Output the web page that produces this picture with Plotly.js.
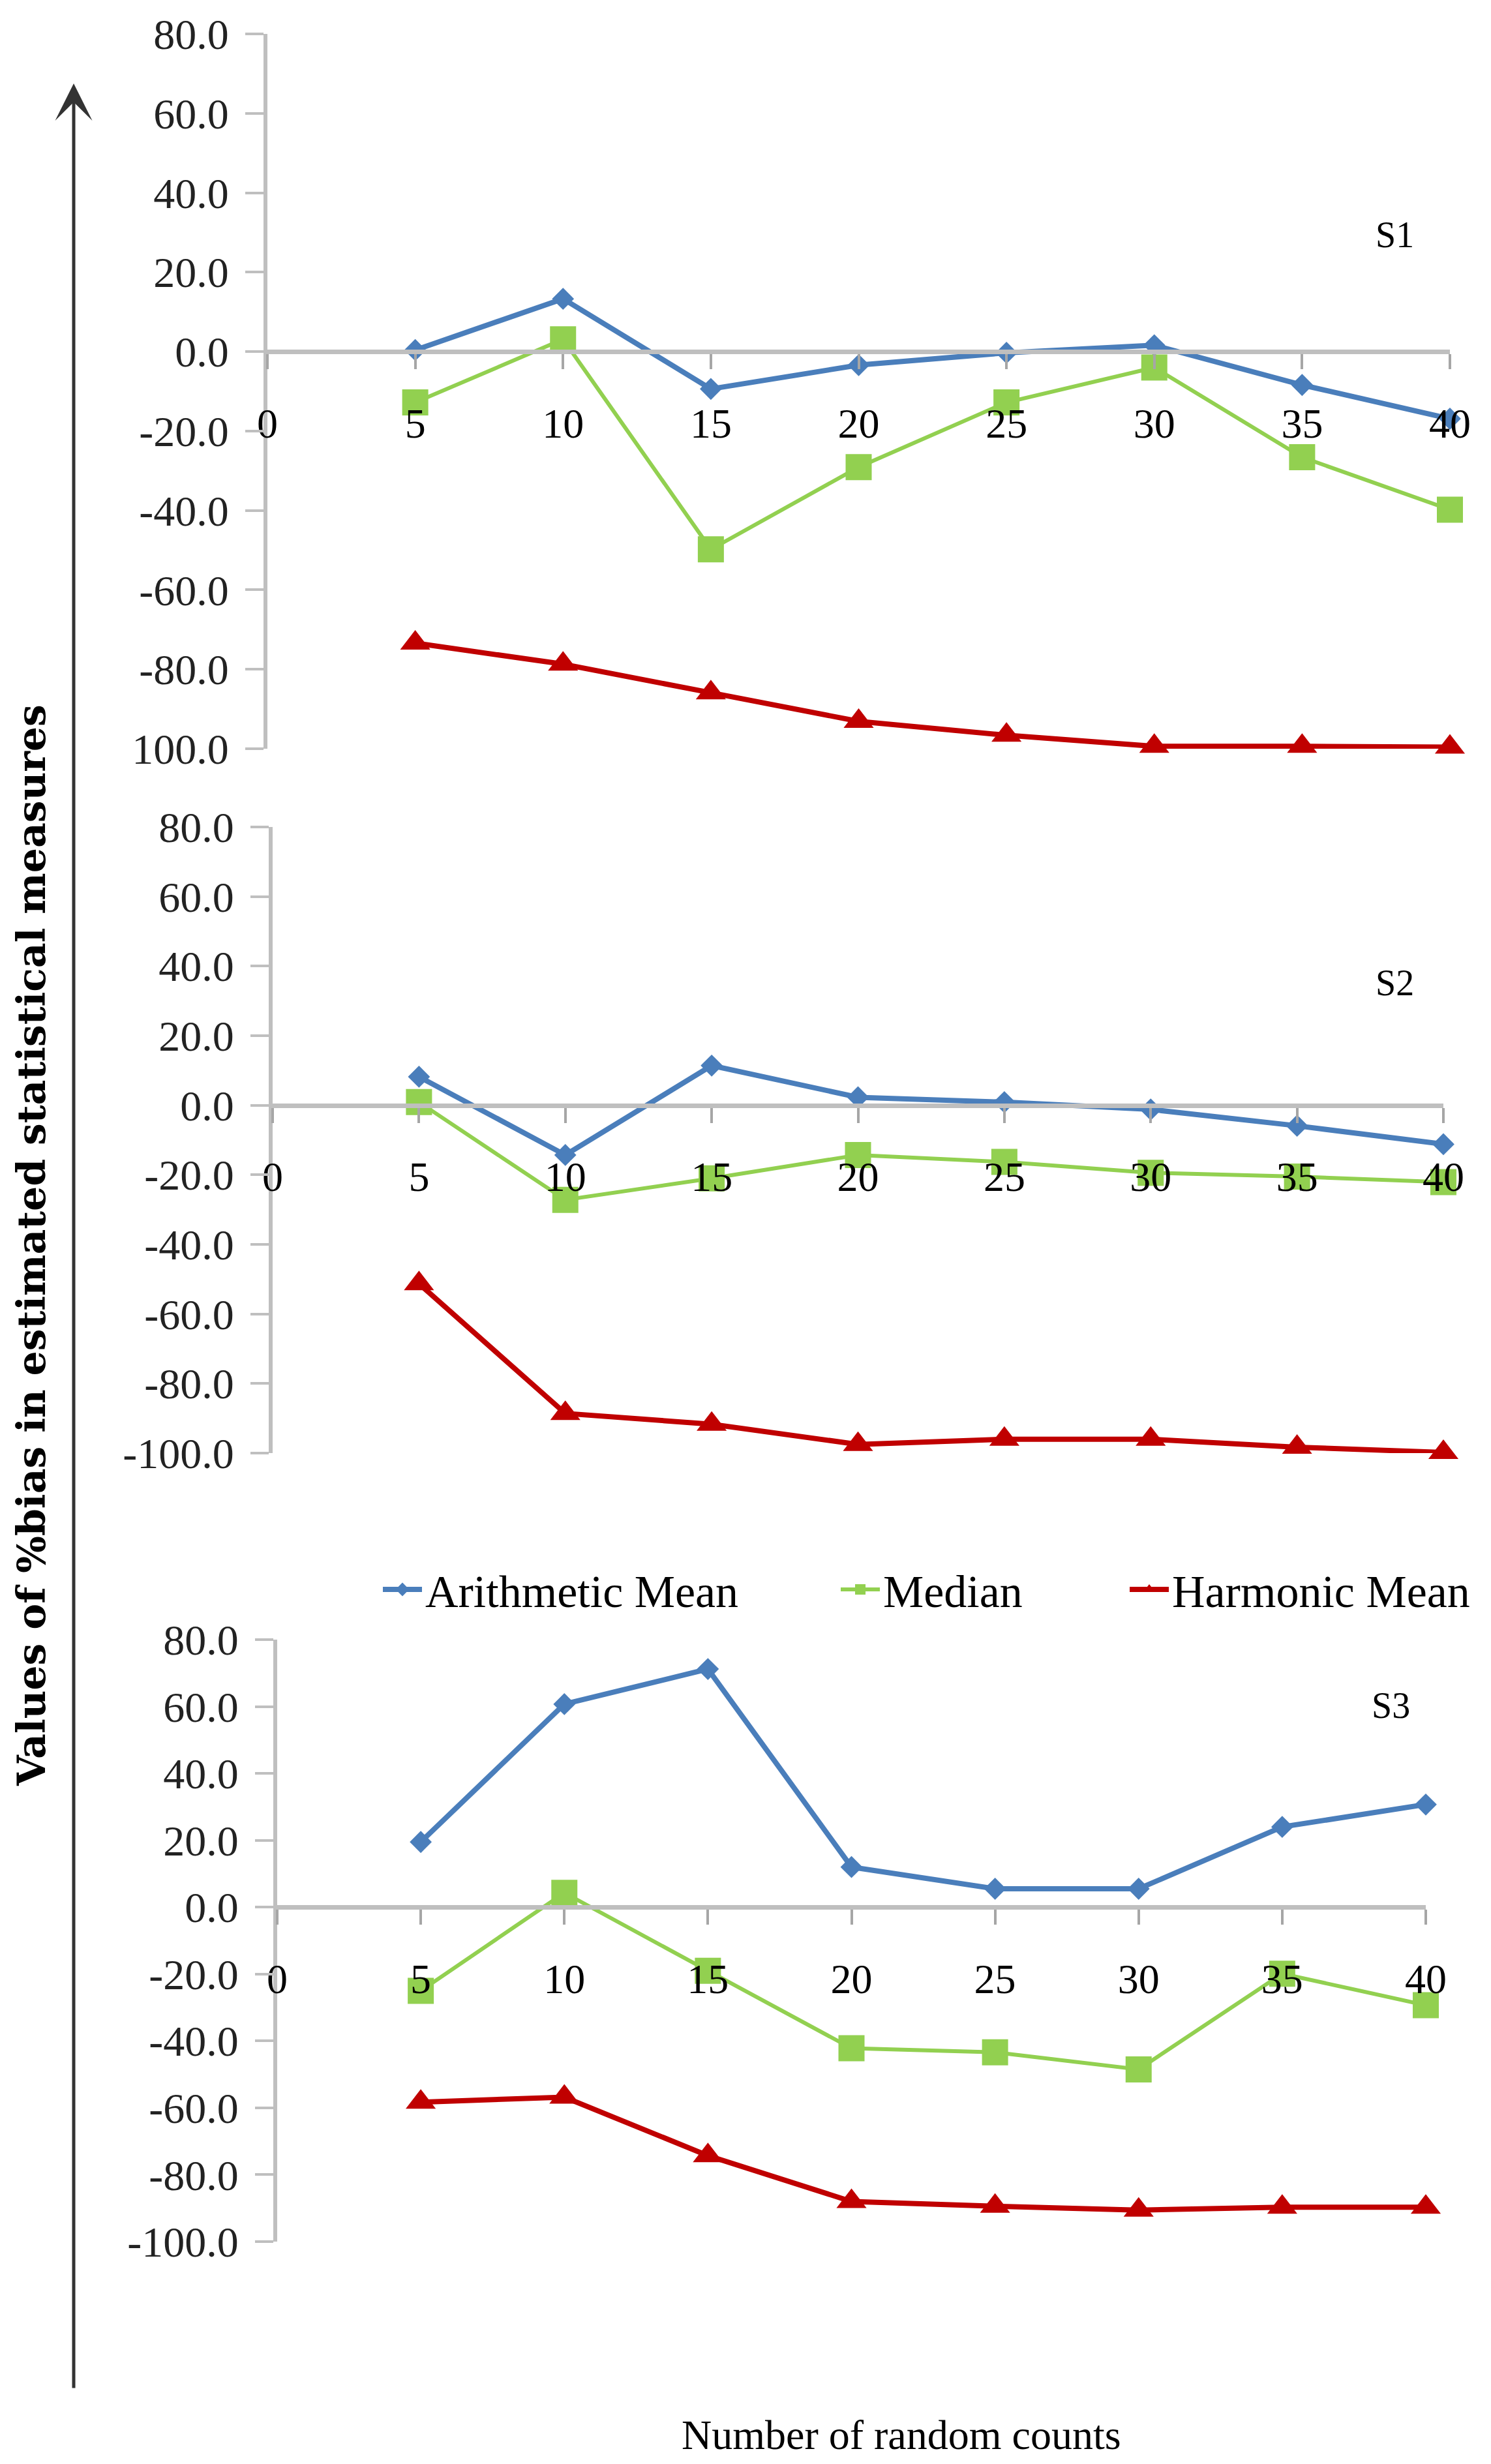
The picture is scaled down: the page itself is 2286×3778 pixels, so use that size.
<!DOCTYPE html>
<html>
<head>
<meta charset="utf-8">
<script src="https://cdn.plot.ly/plotly-3.0.1.min.js"></script>
<style>html,body{margin:0;padding:0;background:#fff;}#chart{width:2286px;height:3778px;}</style>
</head>
<body>
<div id="chart"></div>
<script>
// ---- data ----
const counts = [5, 10, 15, 20, 25, 30, 35, 40];
const seriesNames = ['Arithmetic Mean', 'Median', 'Harmonic Mean'];
const panelLabels = ['S1', 'S2', 'S3'];

const arithS1 = [0.4, 13.3, -9.4, -3.4, -0.3, 1.6, -8.4, -16.9];
const medianS1 = [-12.8, 3.1, -49.8, -29.1, -12.8, -4.0, -26.6, -39.8];
const harmS1 = [-73.4, -78.7, -85.9, -93.1, -96.6, -99.4, -99.4, -99.6];

const arithS2 = [8.2, -14.3, 11.4, 2.3, 0.9, -1.2, -5.9, -11.2];
const medianS2 = [0.9, -27.2, -21.0, -14.3, -16.3, -19.4, -20.5, -22.1];
const harmS2 = [-51.3, -88.6, -91.7, -97.5, -96.0, -96.0, -98.3, -99.8];

const arithS3 = [19.5, 60.7, 71.2, 12.0, 5.5, 5.5, 24.0, 30.7];
const medianS3 = [-25.0, 4.3, -19.0, -42.2, -43.4, -48.5, -19.9, -29.3];
const harmS3 = [-58.3, -56.8, -74.3, -88.0, -89.4, -90.6, -89.7, -89.7];

const xTickVals = [0, 5, 10, 15, 20, 25, 30, 35, 40];
const xTickText = ['0', '5', '10', '15', '20', '25', '30', '35', '40'];
const yTickVals = [-100, -80, -60, -40, -20, 0, 20, 40, 60, 80];
const yTickText = ['-100.0', '-80.0', '-60.0', '-40.0', '-20.0', '0.0', '20.0', '40.0', '60.0', '80.0'];
const yTickTextS1 = ['100.0', '-80.0', '-60.0', '-40.0', '-20.0', '0.0', '20.0', '40.0', '60.0', '80.0'];

const yAxisTitle = 'Values of %bias in estimated statistical measures';
const xAxisTitle = 'Number of random counts';

// ---- styling / layout ----
const W = 2286, H = 3778;
const fx = p => p / W;
const fy = p => 1 - p / H;
const FONT = 'Liberation Serif';

const panels = [
  {xl: 410, xr: 2223, yt: 52, yb: 1148, data: [arithS1, medianS1, harmS1], ticktext: yTickTextS1, label: {x: 2138, y: 360}},
  {xl: 418, xr: 2213, yt: 1268, yb: 2228, data: [arithS2, medianS2, harmS2], ticktext: yTickText, label: {x: 2138, y: 1507}},
  {xl: 425, xr: 2186, yt: 2514, yb: 3437, data: [arithS3, medianS3, harmS3], ticktext: yTickText, label: {x: 2132, y: 2615}}
];

const styles = [
  {color: '#4A7EBB', symbol: 'diamond', size: 26, width: 8},
  {color: '#92D050', symbol: 'square', size: 40, width: 6},
  {color: '#C00000', symbol: 'triangle-up', size: 40, width: 8}
];

const legendX = [582, 1284, 1727];
const legendIds = ['legend', 'legend2', 'legend3'];

const YMIN = -100, YMAX = 80;
const traces = [];
const layout = {
  width: W, height: H,
  margin: {l: 0, r: 0, t: 0, b: 0, autoexpand: false},
  paper_bgcolor: '#ffffff', plot_bgcolor: 'rgba(0,0,0,0)',
  showlegend: true,
  annotations: [],
  font: {family: FONT}
};
legendIds.forEach((id, s) => {
  layout[id] = {
    orientation: 'h', x: fx(legendX[s]), xanchor: 'left', y: fy(2437), yanchor: 'middle',
    font: {family: FONT, size: 70, color: '#000'},
    itemwidth: 60, bgcolor: 'rgba(0,0,0,0)'
  };
});

panels.forEach((p, i) => {
  const k = i === 0 ? '' : String(i + 1);
  const yb = fy(p.yb), yt = fy(p.yt);
  const zeroPos = yb + (0 - YMIN) / (YMAX - YMIN) * (yt - yb);
  layout['xaxis' + k] = {
    domain: [fx(p.xl), fx(p.xr)], anchor: 'free', position: zeroPos,
    range: [0, 40], tickvals: xTickVals, ticktext: xTickText,
    showline: true, linecolor: '#BFBFBF', linewidth: 7,
    ticks: 'outside', ticklen: 23, tickwidth: 4, tickcolor: '#A6A6A6',
    ticklabelstandoff: 28,
    tickfont: {family: FONT, size: 64, color: '#000'},
    showgrid: false, zeroline: false, fixedrange: true
  };
  layout['yaxis' + k] = {
    domain: [yb, yt], anchor: 'x' + k,
    range: [YMIN, YMAX], tickvals: yTickVals, ticktext: p.ticktext,
    showline: true, linecolor: '#BFBFBF', linewidth: 6,
    ticks: 'outside', ticklen: 28, tickwidth: 4, tickcolor: '#BFBFBF',
    ticklabelstandoff: 12,
    tickfont: {family: FONT, size: 66, color: '#222'},
    showgrid: false, zeroline: false, fixedrange: true
  };
  p.data.forEach((vals, s) => {
    const st = styles[s];
    traces.push({
      type: 'scatter', mode: 'lines+markers',
      x: counts, y: vals, name: seriesNames[s],
      xaxis: 'x' + k, yaxis: 'y' + k,
      legend: legendIds[s],
      legendgroup: seriesNames[s], showlegend: i === 0,
      line: {color: st.color, width: st.width},
      marker: {color: st.color, symbol: st.symbol, size: st.size},
      cliponaxis: false
    });
  });
  layout.annotations.push({
    xref: 'paper', yref: 'paper', x: fx(p.label.x), y: fy(p.label.y),
    xanchor: 'center', yanchor: 'middle', showarrow: false,
    text: panelLabels[i], font: {family: FONT, size: 56, color: '#000'}
  });
});

// vertical y-axis title and arrow
layout.annotations.push({
  xref: 'paper', yref: 'paper', x: fx(48), y: fy(1910),
  xanchor: 'center', yanchor: 'middle', showarrow: false, textangle: -90,
  text: '<b>' + yAxisTitle + '</b>', font: {family: 'DejaVu Serif', size: 60, color: '#000'}
});
layout.annotations.push({
  xref: 'paper', yref: 'paper', x: fx(113), y: fy(128),
  ax: 0, ay: 3663 - 128, axref: 'pixel', ayref: 'pixel',
  showarrow: true, arrowhead: 3, arrowsize: 1.9, arrowwidth: 5, arrowcolor: '#333',
  text: ''
});
layout.annotations.push({
  xref: 'paper', yref: 'paper', x: fx(1382), y: fy(3733),
  xanchor: 'center', yanchor: 'middle', showarrow: false,
  text: xAxisTitle, font: {family: FONT, size: 64, color: '#000'}
});

Plotly.newPlot('chart', traces, layout, {staticPlot: true, displayModeBar: false});
</script>
</body>
</html>
